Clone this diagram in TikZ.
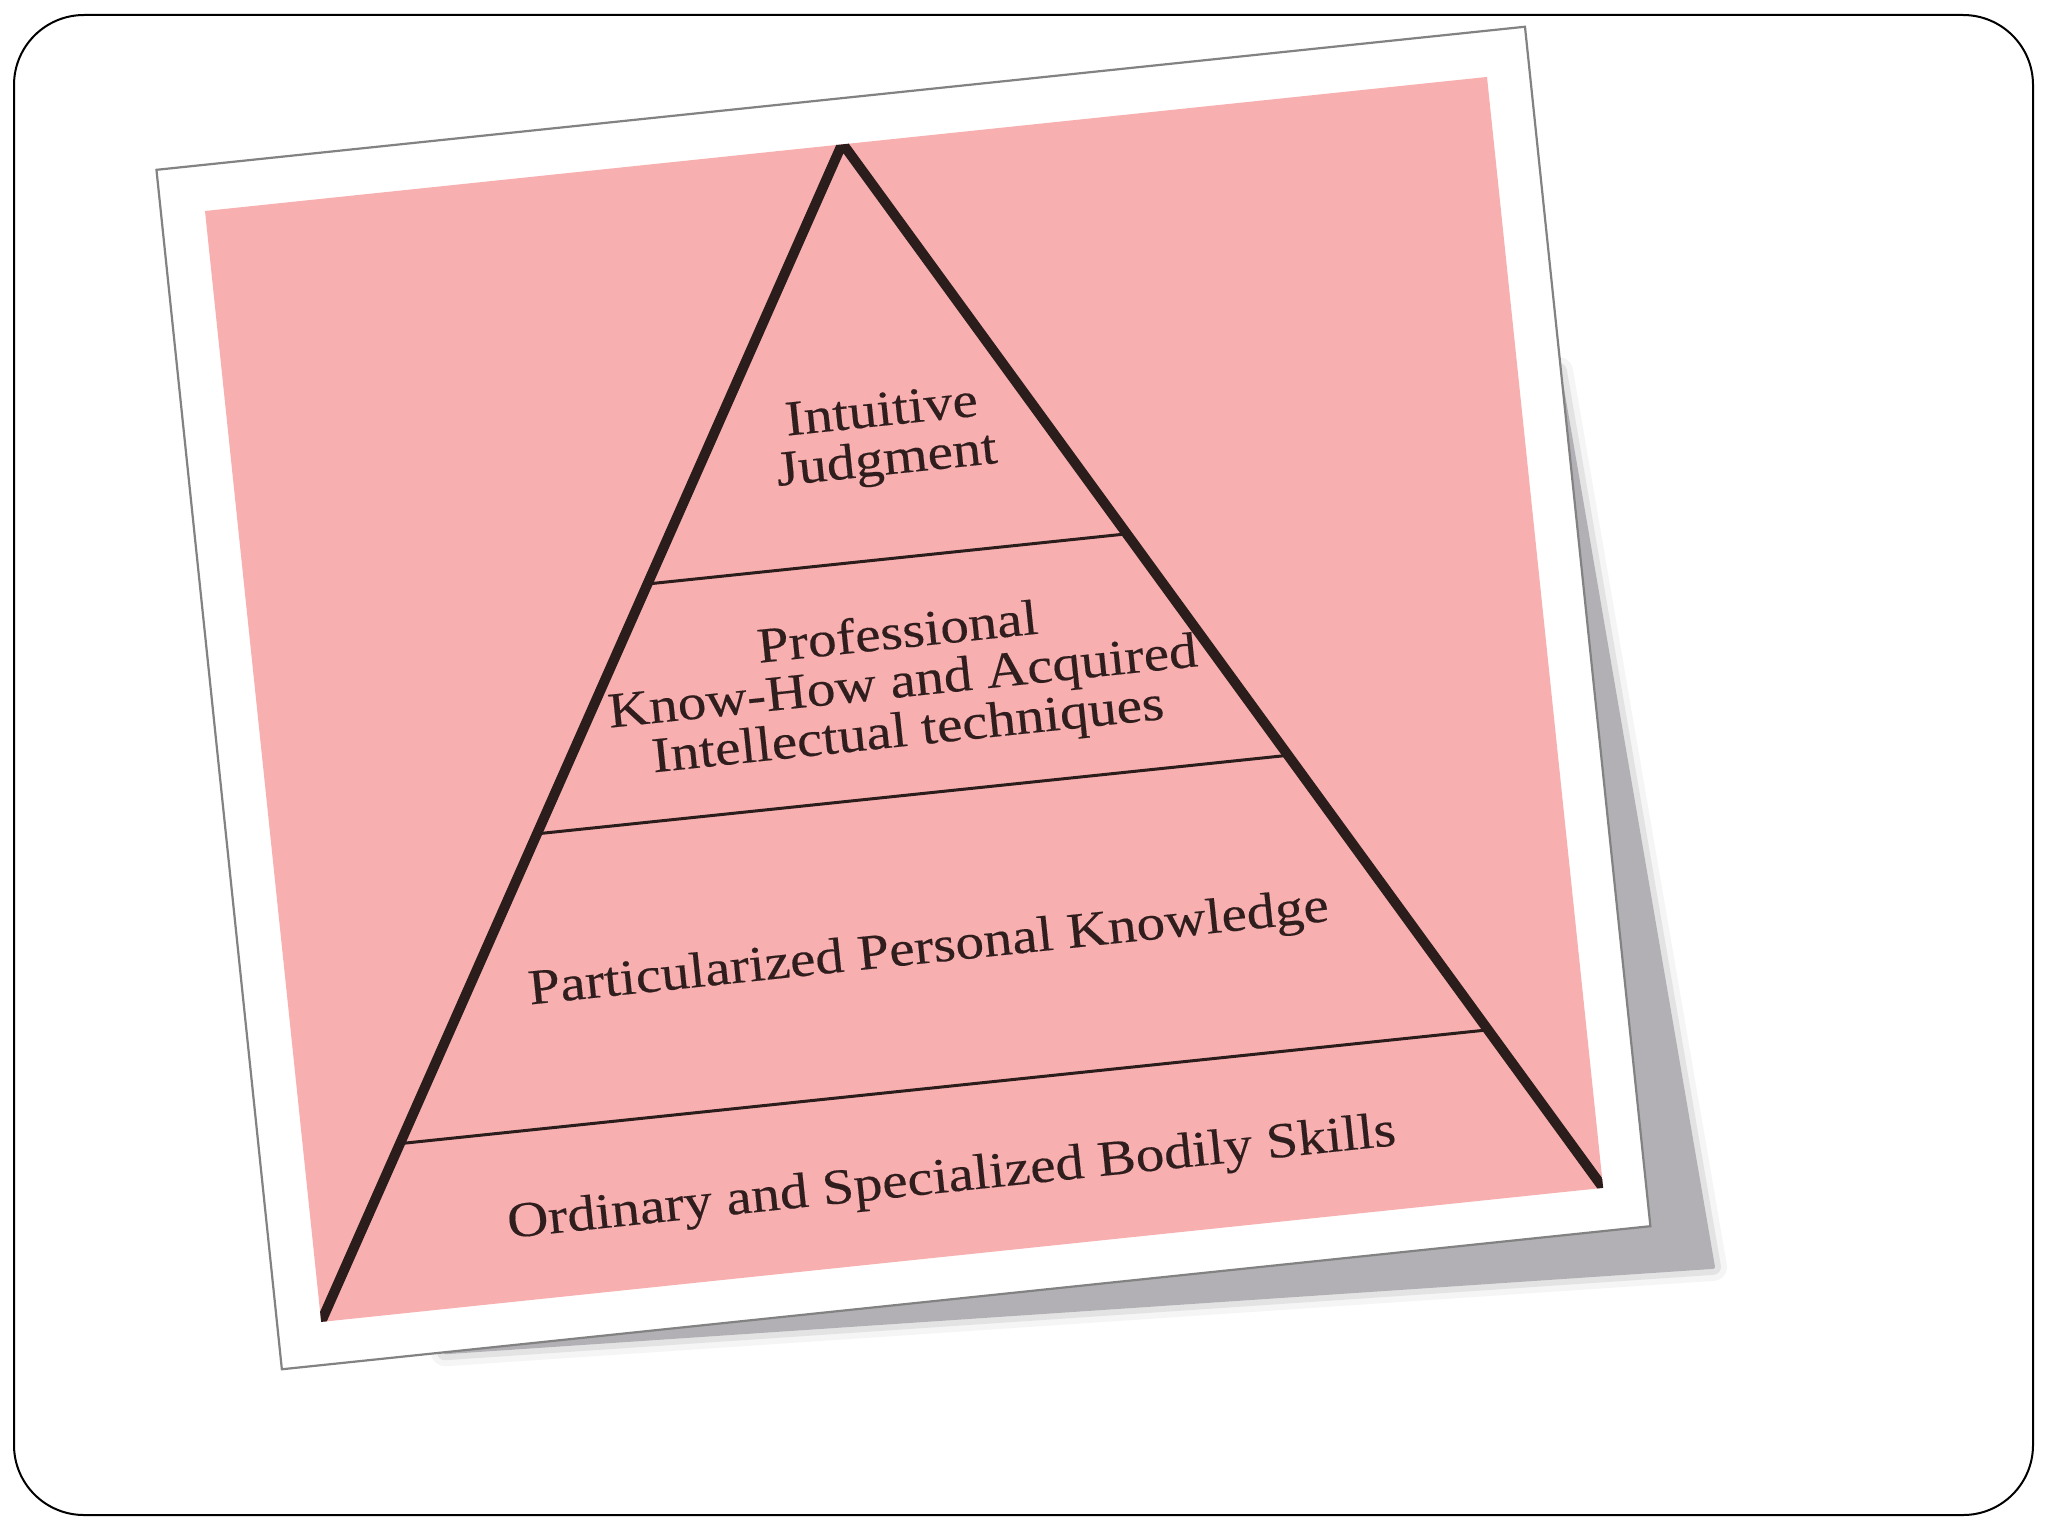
\documentclass[tikz,border=0pt]{standalone}
\usepackage{fontspec}
\newfontfamily\pyrfont[FakeStretch=1.14,FakeBold=0.3]{Liberation Serif}
\usetikzlibrary{calc}
\definecolor{pinkfill}{RGB}{248,175,175}
\definecolor{framegrey}{RGB}{130,130,130}
\definecolor{shadowgrey}{RGB}{178,176,180}
\definecolor{inkbrown}{RGB}{43,29,27}
\definecolor{textbrown}{RGB}{48,30,30}
\begin{document}
\begin{tikzpicture}[x=0.5pt,y=-0.5pt,
  lvl/.style={line width=1.5pt, draw=inkbrown},
  leg/.style={line width=5pt, draw=inkbrown, line join=miter},
  lbl/.style={anchor=base, rotate=5.97, inner sep=0pt, text=textbrown, align=center,
    font=\pyrfont\fontsize{25}{24.5}\selectfont}]
\useasboundingbox (0,0) rectangle (2048,1536);
\fill[white] (0,0) rectangle (2048,1536);
\draw[line width=1pt, rounded corners=35pt] (14,15) rectangle (2033,1515);

\begin{scope}[shift={(205,211)}, rotate=5.97]
  % shadow
  \path[fill=shadowgrey, draw=shadowgrey, opacity=0.12, line width=14pt, line join=round]
    (1330,300) -- (1390,1207) -- (120,1160) -- (1330,1160) -- cycle;
  \path[fill=shadowgrey, draw=shadowgrey, opacity=0.25, line width=8pt, line join=round]
    (1330,300) -- (1390,1207) -- (120,1160) -- (1330,1160) -- cycle;
  \path[fill=shadowgrey, draw=shadowgrey, line width=2pt, line join=round]
    (1330,300) -- (1390,1207) -- (120,1160) -- (1330,1160) -- cycle;
  % photo frame
  \path[fill=white, draw=framegrey, line width=1.1pt]
    (-44,-46) -- (1332,-46) -- (1332,1160) -- (-44,1160) -- cycle;
  % pink panel
  \fill[pinkfill] (0,0) -- (1289,0) -- (1289,1117) -- (0,1117) -- cycle;

  % pyramid
  \coordinate (apex) at (641,-1);
  \coordinate (bl) at (0,1117);
  \coordinate (br) at (1289,1117);
  \coordinate (l1) at ($(apex)!0.3739!(bl)$);
  \coordinate (r1) at ($(apex)!0.3739!(br)$);
  \coordinate (l2) at ($(apex)!0.5859!(bl)$);
  \coordinate (r2) at ($(apex)!0.5859!(br)$);
  \coordinate (l3) at ($(apex)!0.8488!(bl)$);
  \coordinate (r3) at ($(apex)!0.8488!(br)$);
  \coordinate (blx) at ($(apex)!1.03!(bl)$);
  \coordinate (brx) at ($(apex)!1.03!(br)$);
  \begin{scope}
    \clip (0,0) -- (1289,0) -- (1289,1117) -- (0,1117) -- cycle;
    \draw[lvl] (l1) -- (r1);
    \draw[lvl] (l2) -- (r2);
    \draw[lvl] (l3) -- (r3);
    \draw[leg] (blx) -- (apex) -- (brx);
  \end{scope}

  % labels (base anchor = baseline of the last line)
  \node[lbl] (top) at (652,333) {Intuitive\\Judgment};
  \node[lbl] (pro) at (645,605) {Professional\\Know-How and Acquired\\Intellectual techniques};
  \node[lbl] (par) at (643,823) {Particularized Personal Knowledge};
  \node[lbl] (ord) at (642,1053) {Ordinary and Specialized Bodily Skills};
\end{scope}
\end{tikzpicture}
\end{document}
